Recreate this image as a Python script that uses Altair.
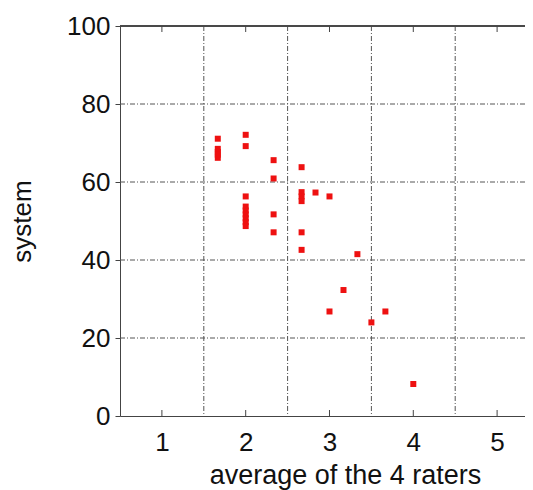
import altair as alt
import pandas as pd

# data
x_vals = [1.667, 1.667, 1.667, 1.667, 1.667,
          2.0, 2.0, 2.0, 2.0, 2.0, 2.0, 2.0, 2.0, 2.0,
          2.333, 2.333, 2.333, 2.333,
          2.667, 2.667, 2.667, 2.667, 2.667, 2.667,
          2.833, 3.0, 3.0, 3.167, 3.333, 3.5, 3.667, 4.0]
y_vals = [71.1, 68.5, 67.7, 67.0, 66.2,
          72.1, 69.2, 56.3, 53.7, 52.7, 51.7, 50.7, 49.7, 48.7,
          65.6, 60.9, 51.7, 47.1,
          63.8, 57.4, 56.3, 55.1, 47.1, 42.6,
          57.3, 56.3, 26.8, 32.3, 41.5, 24.0, 26.8, 8.2]
x_ticks = [1, 2, 3, 4, 5]
y_ticks = [0, 20, 40, 60, 80, 100]
x_grid = [1.5, 2.5, 3.5, 4.5]
y_grid = [20, 40, 60, 80]

W, H = 405, 390
FONT = "Liberation Sans"

pts = pd.DataFrame({"x": x_vals, "y": y_vals})
xs = alt.Scale(domain=[0.5, 5.333], nice=False, zero=False)
ys = alt.Scale(domain=[0, 100], nice=False)

grid_dash = [5, 2, 1, 2]
vgrid = alt.Chart(pd.DataFrame({"g": x_grid})).mark_rule(
    color="#555", strokeWidth=1, strokeDash=grid_dash
).encode(x=alt.X("g:Q", scale=xs))
hgrid = alt.Chart(pd.DataFrame({"g": y_grid})).mark_rule(
    color="#555", strokeWidth=1, strokeDash=grid_dash
).encode(y=alt.Y("g:Q", scale=ys))

tick_df = pd.DataFrame({"t": x_ticks})
bot_ticks = alt.Chart(tick_df).mark_rule(color="#444").encode(
    x=alt.X("t:Q", scale=xs), y=alt.value(H), y2=alt.value(H - 6))
top_ticks = alt.Chart(tick_df).mark_rule(color="#444").encode(
    x=alt.X("t:Q", scale=xs), y=alt.value(0), y2=alt.value(6))
top_line = alt.Chart(tick_df).mark_rule(color="#444").encode(
    x=alt.value(0), x2=alt.value(W), y=alt.value(0))

points = alt.Chart(pts).mark_square(size=36, color="#ee1111", opacity=1).encode(
    x=alt.X("x:Q", scale=xs, title="average of the 4 raters",
            axis=alt.Axis(values=x_ticks, format="d", grid=False, ticks=False,
                          labelPadding=13, domainColor="#444", titlePadding=7,
                          titleX=225)),
    y=alt.Y("y:Q", scale=ys, title="system",
            axis=alt.Axis(values=y_ticks, format="d", grid=False, tickSize=5,
                          tickColor="#444", labelPadding=5, domainColor="#444",
                          titlePadding=31, titleFontSize=26)),
)

chart = alt.layer(vgrid, hgrid, top_line, bot_ticks, top_ticks, points).properties(
    width=W, height=H,
    autosize=alt.AutoSizeParams(type="none"),
    padding={"left": 112, "top": 18, "right": 0, "bottom": 74},
).configure_view(stroke=None).configure_axis(
    labelFont=FONT, titleFont=FONT, labelFontSize=26, titleFontSize=27,
    labelColor="#111", titleColor="#111", titleFontWeight="normal",
)

chart.save("out.html", embed_options={"renderer": "svg", "actions": False})
